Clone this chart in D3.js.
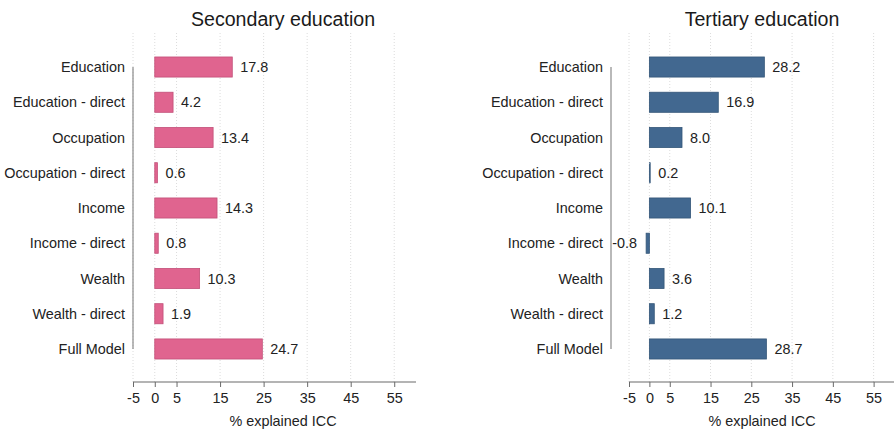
<!DOCTYPE html>
<html>
<head>
<meta charset="utf-8">
<script src="https://cdn.jsdelivr.net/npm/d3@7"></script>
<style>
  body { margin: 0; background: #fff; }
  svg { font-family: "Liberation Sans", Arial, Helvetica, sans-serif; }
</style>
</head>
<body>
<svg id="chart" width="894" height="432"></svg>
<script>
// categories, top to bottom
var categories = ["Education", "Education - direct", "Occupation", "Occupation - direct",
  "Income", "Income - direct", "Wealth", "Wealth - direct", "Full Model"];
var secondaryValues = [17.8, 4.2, 13.4, 0.6, 14.3, 0.8, 10.3, 1.9, 24.7];
var tertiaryValues = [28.2, 16.9, 8.0, 0.2, 10.1, -0.8, 3.6, 1.2, 28.7];
var xTicks = [-5, 0, 5, 15, 25, 35, 45, 55];
var xDomain = [-5, 60];
var xTitle = "% explained ICC";

var svg = d3.select("#chart");
// plain hyphen for negatives, like the original
function fmt(d) { return d.toFixed(1); }
var labelSize = 14.4;

function panel(title, values, o) {
  var x = d3.scaleLinear().domain(xDomain).range([o.x0, o.x1]);
  var y = d3.scaleBand().domain(categories)
    .range([49.4, 366.6])
    .paddingInner(0.43).paddingOuter(0.215);
  var axisY = 382;
  var g = svg.append("g");

  // dotted gridlines
  g.selectAll("line.grid")
    .data(xTicks)
    .enter().append("line")
    .attr("class", "grid")
    .attr("x1", function(d){ return x(d); })
    .attr("x2", function(d){ return x(d); })
    .attr("y1", 33).attr("y2", axisY)
    .attr("stroke", "#dcdcdc")
    .attr("stroke-width", 1)
    .attr("stroke-dasharray", "1,2");

  // bars
  g.selectAll("rect")
    .data(values)
    .enter().append("rect")
    .attr("x", function(d){ return x(Math.min(0, d)); })
    .attr("y", function(d, i){ return y(categories[i]); })
    .attr("width", function(d){ return Math.abs(x(d) - x(0)); })
    .attr("height", y.bandwidth())
    .attr("fill", o.fill)
    .attr("stroke", o.stroke)
    .attr("stroke-width", 0.8);

  // value labels
  g.selectAll("text.val")
    .data(values)
    .enter().append("text")
    .attr("class", "val")
    .attr("x", function(d){ return d < 0 ? x(d) - 9 : x(d) + 8; })
    .attr("y", function(d, i){ return y(categories[i]) + y.bandwidth() / 2; })
    .attr("dy", "0.35em")
    .attr("text-anchor", function(d){ return d < 0 ? "end" : "start"; })
    .attr("font-size", labelSize)
    .attr("fill", "#222")
    .text(function(d){ return fmt(d); });

  // category axis: line between first and last band centres
  var c0 = y(categories[0]) + y.bandwidth() / 2,
      c1 = y(categories[categories.length - 1]) + y.bandwidth() / 2;
  g.append("line")
    .attr("x1", o.yAxisX).attr("x2", o.yAxisX)
    .attr("y1", c0).attr("y2", c1)
    .attr("stroke", "#8a8a8a").attr("stroke-width", 1.2);

  g.selectAll("text.cat")
    .data(categories)
    .enter().append("text")
    .attr("class", "cat")
    .attr("x", o.yAxisX - 8)
    .attr("y", function(d){ return y(d) + y.bandwidth() / 2; })
    .attr("dy", "0.35em")
    .attr("text-anchor", "end")
    .attr("font-size", labelSize)
    .attr("fill", "#222")
    .text(function(d){ return d; });

  // x axis
  var ax = g.append("g")
    .attr("transform", "translate(0," + axisY + ")")
    .call(d3.axisBottom(x).tickValues(xTicks).tickSize(5).tickPadding(6)
      .tickFormat(function(d){ return String(d); }));
  ax.select(".domain").attr("stroke", "#6a6a6a").attr("stroke-width", 1.2)
    .attr("d", "M" + o.x0 + ",0H" + o.x1);
  ax.selectAll(".tick line").attr("stroke", "#6a6a6a");
  ax.selectAll(".tick text")
    .attr("font-size", labelSize)
    .attr("font-family", "Liberation Sans, Arial, sans-serif")
    .attr("fill", "#222");

  g.append("text")
    .attr("x", o.cx).attr("y", 426)
    .attr("text-anchor", "middle")
    .attr("font-size", labelSize)
    .attr("fill", "#222")
    .text(xTitle);

  g.append("text")
    .attr("x", o.cx).attr("y", 26)
    .attr("text-anchor", "middle")
    .attr("font-size", 19.6)
    .attr("fill", "#1a1a1a")
    .text(title);
}

panel("Secondary education", secondaryValues,
  { x0: 133, x1: 416, yAxisX: 133, cx: 283, fill: "#e0648f", stroke: "#c24f78" });
panel("Tertiary education", tertiaryValues,
  { x0: 629, x1: 894, yAxisX: 611, cx: 762, fill: "#426890", stroke: "#345678" });
</script>
</body>
</html>
